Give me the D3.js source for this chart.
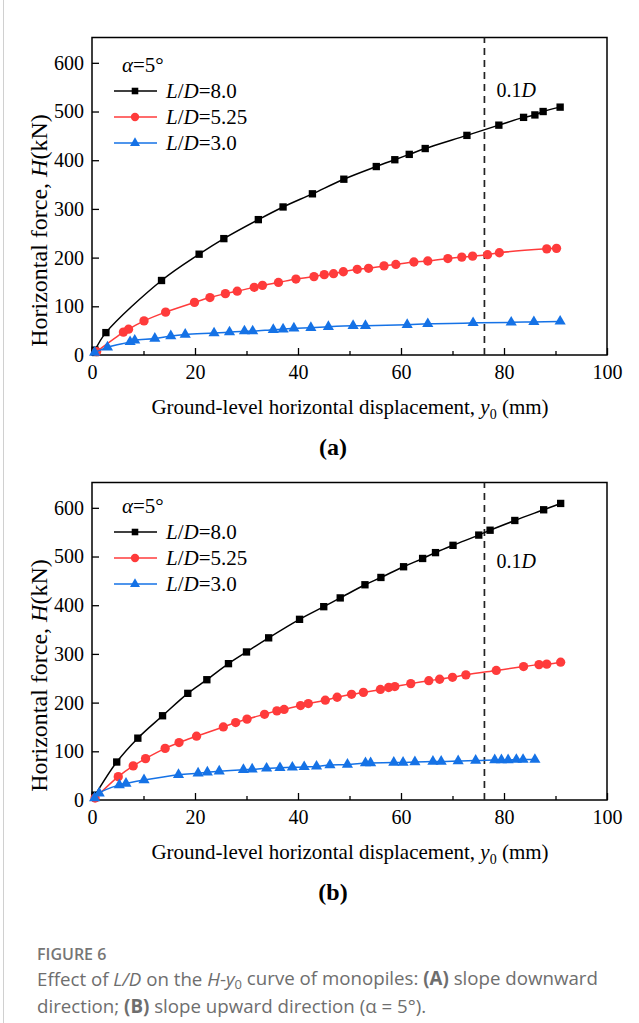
<!DOCTYPE html>
<html>
<head>
<meta charset="utf-8">
<script src="https://cdn.jsdelivr.net/npm/d3@7"></script>
<style>
  body { margin: 0; background: #fff; }
  svg { display: block; }
</style>
</head>
<body>
<svg id="chart" width="639" height="1023"></svg>
<script>
// Data: [y0 (mm), H (kN)]
const seriesNames = ["8.0", "5.25", "3.0"];
const seriesColors = ["#000000", "#ff3b3b", "#1572e6"];

// (a) slope downward
const downLD80 = [[0.6,10],[2.7,46],[13.5,153],[20.8,207],[25.6,239],[32.3,278],[37.1,304],[42.8,331],[48.9,361],[55.2,387],[58.8,401],[61.6,412],[64.7,424],[72.8,451],[79.0,472],[83.8,488],[86.0,493],[87.6,500],[90.9,509]];
const downLD525 = [[0.9,7],[6.1,47],[7.1,53],[10.1,70],[14.3,88],[19.9,108],[22.9,118],[25.9,126],[28.2,131],[31.5,139],[33.1,143],[36.2,149],[39.6,156],[43.1,161],[45.1,165],[46.9,167],[48.8,171],[51.5,176],[53.7,178],[56.7,183],[59.0,186],[62.5,191],[65.2,193],[69.1,198],[71.8,201],[73.9,203],[76.8,206],[79.1,210],[88.3,218],[90.2,219]];
const downLD30 = [[0.5,5],[3.0,16],[7.4,27],[8.3,30],[12.2,34],[15.3,39],[18.1,42],[23.7,45],[26.7,47],[29.6,49],[31.2,49],[35.2,52],[37.1,53],[39.2,55],[42.5,56],[45.9,58],[50.7,60],[53.1,60],[61.2,62],[65.2,64],[74.0,66],[81.4,67],[85.8,68],[90.9,69]];

// (b) slope upward
const upLD80 = [[0.6,10],[4.8,78],[8.9,127],[13.7,173],[18.6,219],[22.3,247],[26.5,280],[30.0,304],[34.3,333],[40.3,371],[45.0,397],[48.2,415],[53.0,442],[56.1,457],[60.5,479],[64.2,496],[66.7,508],[70.1,523],[75.1,544],[77.3,554],[82.1,574],[87.7,596],[91.0,609]];
const upLD525 = [[0.6,4],[5.1,48],[8.0,70],[10.4,85],[14.2,106],[16.9,118],[20.3,131],[25.5,150],[27.9,159],[30.1,166],[33.5,176],[35.9,183],[37.3,186],[40.5,194],[42.0,198],[45.3,205],[47.6,211],[50.4,217],[52.7,221],[56.0,227],[57.6,231],[58.8,233],[61.9,239],[65.4,245],[67.5,248],[70.0,252],[72.6,257],[78.5,266],[83.8,274],[86.8,278],[88.3,279],[91.0,283]];
const upLD30 = [[0.5,4],[1.4,14],[5.3,31],[6.6,34],[10.1,41],[16.8,52],[20.6,55],[22.4,57],[24.7,59],[29.4,62],[31.1,63],[33.9,65],[36.5,66],[38.9,67],[41.2,68],[43.6,69],[46.2,72],[49.6,73],[53.1,76],[54.1,76],[58.6,77],[60.4,77],[62.7,78],[66.2,79],[67.8,79],[71.1,80],[74.5,81],[78.2,82],[79.5,82],[80.8,82],[82.4,83],[83.7,83],[86.0,83]];

const xMajorTicks = [0, 20, 40, 60, 80, 100];
const xMinorTicks = [10, 30, 50, 70, 90];
const yTicks = [0, 100, 200, 300, 400, 500, 600];
const refDisp = 76.2; // 0.1D

const svg = d3.select("#chart");
const serif = "'Liberation Serif', 'Times New Roman', serif";

// thin grey page border on the left
svg.append("line")
  .attr("x1", 3.5).attr("x2", 3.5).attr("y1", 0).attr("y2", 1023)
  .attr("stroke", "#d0d0d0").attr("stroke-width", 1);

const left = 92, right = 607, plotH = 317.5;
const symbols = [d3.symbolSquare, d3.symbolCircle, d3.symbolTriangle];
const symSizes = [54, 68, 54];

function drawPanel(top, seriesData, tag, legTop, refLabelY) {
  const x = d3.scaleLinear().domain([0, 100]).range([left, right]);
  const y = d3.scaleLinear().domain([0, 652]).range([top + plotH, top]);
  const g = svg.append("g");

  // y axis
  const ya = g.append("g")
    .attr("transform", `translate(${left},0)`)
    .call(d3.axisLeft(y).tickValues(yTicks).tickSizeInner(-7).tickSizeOuter(0).tickPadding(8));
  ya.select(".domain").remove();
  ya.selectAll("line").attr("stroke-width", 1.3);
  ya.selectAll("text").attr("font-family", serif).attr("font-size", 20).attr("fill", "#000");

  // x axis
  const xa = g.append("g")
    .attr("transform", `translate(0,${top + plotH})`)
    .call(d3.axisBottom(x).tickValues(xMajorTicks).tickSizeInner(-7).tickSizeOuter(0).tickPadding(10));
  xa.select(".domain").remove();
  xa.selectAll("line").attr("stroke-width", 1.3);
  xa.selectAll("text").attr("font-family", serif).attr("font-size", 20).attr("fill", "#000");

  const xm = g.append("g")
    .attr("transform", `translate(0,${top + plotH})`)
    .call(d3.axisBottom(x).tickValues(xMinorTicks).tickSizeInner(-4).tickSizeOuter(0).tickFormat(""));
  xm.select(".domain").remove();
  xm.selectAll("line").attr("stroke-width", 1.3);

  // frame
  g.append("rect")
    .attr("x", left).attr("y", top)
    .attr("width", right - left).attr("height", plotH)
    .attr("fill", "none").attr("stroke", "#000").attr("stroke-width", 1.5);

  // 0.1D reference line
  g.append("line")
    .attr("x1", x(refDisp)).attr("x2", x(refDisp))
    .attr("y1", top + plotH).attr("y2", top)
    .attr("stroke", "#222").attr("stroke-width", 1.7)
    .attr("stroke-dasharray", "7,5");
  const rl = g.append("text")
    .attr("x", x(refDisp) + 12).attr("y", refLabelY)
    .attr("dy", "0.35em")
    .attr("font-family", serif).attr("font-size", 20);
  rl.append("tspan").text("0.1");
  rl.append("tspan").attr("font-style", "italic").text("D");

  // curves
  const line = d3.line()
    .x(d => x(d[0]))
    .y(d => y(d[1]))
    .curve(d3.curveCatmullRom.alpha(0.5));

  seriesData.forEach((data, i) => {
    g.append("path")
      .datum(data)
      .attr("d", line)
      .attr("fill", "none")
      .attr("stroke", seriesColors[i])
      .attr("stroke-width", 1.5);
    g.selectAll(".m" + i)
      .data(data)
      .enter().append("path")
      .attr("class", "m" + i)
      .attr("transform", d => `translate(${x(d[0])},${y(d[1])})`)
      .attr("d", d3.symbol().type(symbols[i]).size(symSizes[i]))
      .attr("fill", seriesColors[i]);
  });

  // legend
  const alpha = g.append("text")
    .attr("x", 122).attr("y", legTop)
    .attr("dy", "0.35em")
    .attr("font-family", serif).attr("font-size", 21);
  alpha.append("tspan").attr("font-style", "italic").text("α");
  alpha.append("tspan").text("=5°");

  seriesNames.forEach((name, i) => {
    const ly = legTop + 26 + i * 26;
    g.append("line")
      .attr("x1", 114).attr("x2", 157).attr("y1", ly).attr("y2", ly)
      .attr("stroke", seriesColors[i]).attr("stroke-width", 1.5);
    g.append("path")
      .attr("transform", `translate(135,${ly})`)
      .attr("d", d3.symbol().type(symbols[i]).size(symSizes[i] * 0.8))
      .attr("fill", seriesColors[i]);
    const t = g.append("text")
      .attr("x", 166).attr("y", ly)
      .attr("dy", "0.35em")
      .attr("font-family", serif).attr("font-size", 21);
    t.append("tspan").attr("font-style", "italic").text("L");
    t.append("tspan").text("/");
    t.append("tspan").attr("font-style", "italic").text("D");
    t.append("tspan").text("=" + name);
  });

  // axis titles
  const yt = g.append("text")
    .attr("transform", `translate(39,${top + 193}) rotate(-90)`)
    .attr("text-anchor", "middle")
    .attr("dy", "0.35em")
    .attr("font-family", serif).attr("font-size", 24);
  yt.append("tspan").text("Horizontal force, ");
  yt.append("tspan").attr("font-style", "italic").text("H");
  yt.append("tspan").text("(kN)");

  const xt = g.append("text")
    .attr("x", 350).attr("y", top + plotH + 52)
    .attr("dy", "0.35em")
    .attr("text-anchor", "middle")
    .attr("font-family", serif).attr("font-size", 21);
  xt.append("tspan").text("Ground-level horizontal displacement, ");
  xt.append("tspan").attr("font-style", "italic").text("y");
  xt.append("tspan").attr("font-size", 14).attr("dy", "0.3em").text("0");
  xt.append("tspan").attr("dy", "-0.2em").text(" (mm)");

  g.append("text")
    .attr("x", 333).attr("y", top + plotH + 92)
    .attr("dy", "0.35em")
    .attr("text-anchor", "middle")
    .attr("font-family", serif).attr("font-size", 24).attr("font-weight", "bold")
    .text(tag);
}

drawPanel(37.5, [downLD80, downLD525, downLD30], "(a)", 65, 90);
drawPanel(482.5, [upLD80, upLD525, upLD30], "(b)", 506, 561);

// caption
const sans = "'Open Sans', 'Noto Sans', sans-serif";
svg.append("text")
  .attr("x", 37).attr("y", 960)
  .attr("font-family", sans).attr("font-size", 16).attr("font-weight", 600)
  .attr("fill", "#767676")
  .text("FIGURE 6");

const cap1 = svg.append("text")
  .attr("x", 37).attr("y", 986)
  .attr("font-family", sans).attr("font-size", 18.7).attr("fill", "#6e6e6e");
cap1.append("tspan").text("Effect of ");
cap1.append("tspan").attr("font-style", "italic").text("L/D");
cap1.append("tspan").text(" on the ");
cap1.append("tspan").attr("font-style", "italic").text("H");
cap1.append("tspan").text("-");
cap1.append("tspan").attr("font-style", "italic").text("y");
cap1.append("tspan").attr("font-size", 13).attr("dy", "0.2em").text("0");
cap1.append("tspan").attr("dy", "-0.2em").text(" curve of monopiles: ");
cap1.append("tspan").attr("font-weight", "bold").text("(A)");
cap1.append("tspan").text(" slope downward");

const cap2 = svg.append("text")
  .attr("x", 37).attr("y", 1013)
  .attr("font-family", sans).attr("font-size", 18.7).attr("fill", "#6e6e6e");
cap2.append("tspan").text("direction; ");
cap2.append("tspan").attr("font-weight", "bold").text("(B)");
cap2.append("tspan").text(" slope upward direction (α = 5°).");
</script>
</body>
</html>
